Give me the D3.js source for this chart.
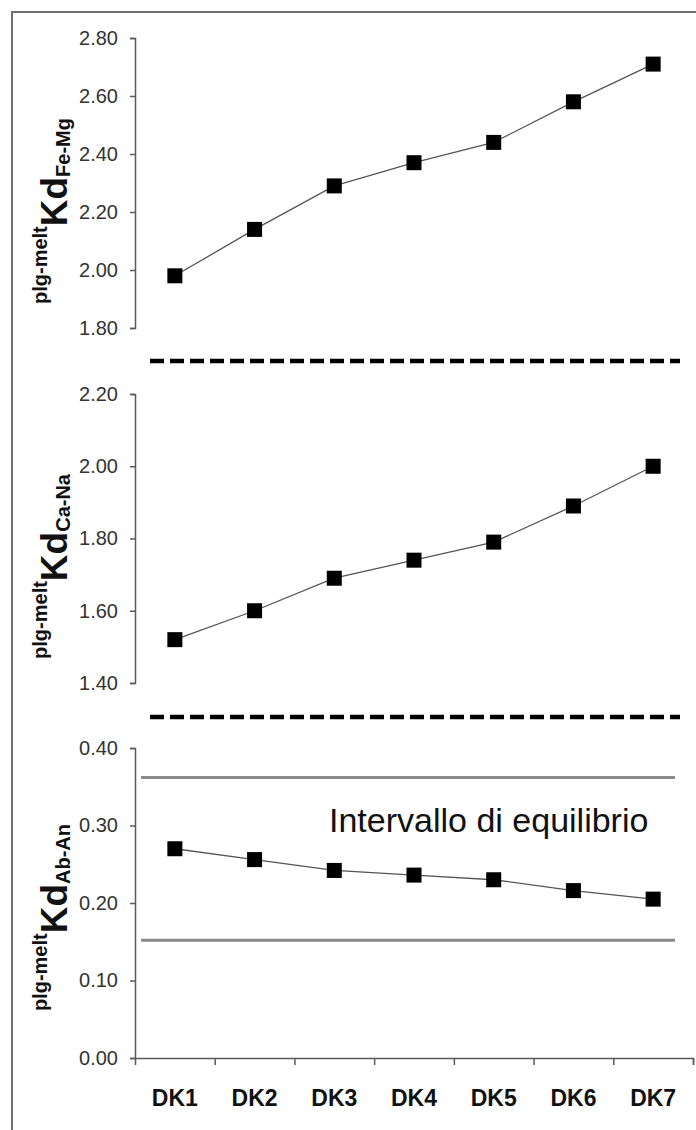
<!DOCTYPE html>
<html>
<head>
<meta charset="utf-8">
<script src="https://cdn.jsdelivr.net/npm/d3@7"></script>
<style>
  body { margin: 0; background: #fff; }
  svg { display: block; font-family: "Liberation Sans", Arial, sans-serif; }
  .yAxis path, .yAxis line, .xAxis path, .xAxis line { stroke: #5a5a5a; stroke-width: 1.5; }
  .yAxis text { font-size: 20px; fill: #333; }
  .xLabels text { font-size: 23px; font-weight: bold; fill: #111; }
</style>
</head>
<body>
<div class="viz"></div>
<script>
// data
var samples = ['DK1', 'DK2', 'DK3', 'DK4', 'DK5', 'DK6', 'DK7'];
var kdFeMg = [1.98, 2.14, 2.29, 2.37, 2.44, 2.58, 2.71];
var kdCaNa = [1.52, 1.60, 1.69, 1.74, 1.79, 1.89, 2.00];
var kdAbAn = [0.270, 0.256, 0.242, 0.236, 0.230, 0.216, 0.205];
var equilibrium = [0.152, 0.362];
var ticksFeMg = [1.8, 2.0, 2.2, 2.4, 2.6, 2.8];
var ticksCaNa = [1.4, 1.6, 1.8, 2.0, 2.2];
var ticksAbAn = [0.0, 0.1, 0.2, 0.3, 0.4];

var width = 696, height = 1130;

var svg = d3.select('.viz').append('svg')
  .attr('width', width)
  .attr('height', height)

// frame
svg.append('rect')
  .attr('x', 12).attr('y', 12)
  .attr('width', 720).attr('height', 1150)
  .attr('fill', 'none')
  .attr('stroke', '#6e6e6e')
  .attr('stroke-width', 2)

var x = d3.scaleBand()
  .domain(samples)
  .range([135, 693])

var panels = [
  {values: kdFeMg, ticks: ticksFeMg, sub: 'Fe-Mg', range: [328, 38], labelEnd: 118},
  {values: kdCaNa, ticks: ticksCaNa, sub: 'Ca-Na', range: [683, 394], labelEnd: 474},
  {values: kdAbAn, ticks: ticksAbAn, sub: 'Ab-An', range: [1058, 748], labelEnd: 824}
]

panels.forEach(function(p){
  var y = d3.scaleLinear()
    .domain(d3.extent(p.ticks))
    .range(p.range);
  p.y = y;

  svg.append('g')
    .attr('class', 'yAxis')
    .attr('transform', 'translate(135,0)')
    .call(d3.axisLeft(y)
      .tickValues(p.ticks)
      .tickFormat(d3.format('.2f'))
      .tickSize(5)
      .tickSizeOuter(5)
      .tickPadding(12));

  // axis title, rotated
  var label = svg.append('text')
    .attr('transform', 'translate(67,' + p.labelEnd + ') rotate(-90)')
    .attr('text-anchor', 'end')
    .attr('font-weight', 'bold')
    .attr('fill', '#111')
  label.append('tspan').attr('font-size', 20).attr('dy', -20).text('plg-melt')
  label.append('tspan').attr('font-size', 37).attr('dy', 20).text('Kd')
  label.append('tspan').attr('font-size', 20).attr('dy', 3).text(p.sub)

  var line = d3.line()
    .x(function(d, i){ return x(samples[i]) + x.bandwidth() / 2; })
    .y(function(d){ return y(d); });

  svg.append('path')
    .datum(p.values)
    .attr('d', line)
    .attr('fill', 'none')
    .attr('stroke', '#555')
    .attr('stroke-width', 1.3)

  svg.selectAll(null)
    .data(p.values)
    .enter()
    .append('rect')
    .attr('x', function(d, i){ return x(samples[i]) + x.bandwidth() / 2 - 7.5; })
    .attr('y', function(d){ return y(d) - 7.5; })
    .attr('width', 15)
    .attr('height', 15)
    .attr('fill', '#000')
});

// dashed separators between panels
[361, 717].forEach(function(yy){
  svg.append('line')
    .attr('x1', 150).attr('x2', 680)
    .attr('y1', yy).attr('y2', yy)
    .attr('stroke', '#000')
    .attr('stroke-width', 4.5)
    .attr('stroke-dasharray', '14,6')
});

// equilibrium interval
var yAb = panels[2].y;
svg.selectAll('.eq')
  .data(equilibrium)
  .enter()
  .append('line')
  .attr('class', 'eq')
  .attr('x1', 141).attr('x2', 675)
  .attr('y1', function(d){ return yAb(d); })
  .attr('y2', function(d){ return yAb(d); })
  .attr('stroke', '#8a8a8a')
  .attr('stroke-width', 3)

svg.append('text')
  .attr('x', 329)
  .attr('y', 832)
  .attr('font-size', 34)
  .attr('fill', '#111')
  .text('Intervallo di equilibrio')

// x axis with ticks at band edges
var xEdges = d3.scaleLinear().domain([0, samples.length]).range(x.range());
svg.append('g')
  .attr('class', 'xAxis')
  .attr('transform', 'translate(0,1058)')
  .call(d3.axisBottom(xEdges)
    .tickValues(d3.range(1, samples.length + 1))
    .tickFormat('')
    .tickSize(7)
    .tickSizeOuter(7));

svg.append('g')
  .attr('class', 'xLabels')
  .attr('transform', 'translate(0,1058)')
  .call(d3.axisBottom(x).tickSize(0).tickPadding(32))
  .call(function(g){ g.select('.domain').remove(); });
</script>
</body>
</html>
